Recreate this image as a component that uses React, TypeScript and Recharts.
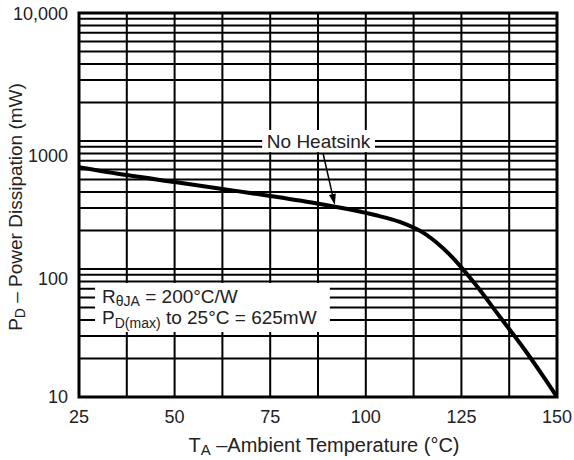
import React from "react";
import {
    LineChart,
    Line,
    XAxis,
    YAxis,
    CartesianGrid,
    ReferenceArea,
    ReferenceLine,
    Label
} from "recharts";

// ambient temperature (°C) and power dissipation (mW)
const temps = [25, 37.5, 50, 62.5, 75, 88, 102.4, 108.9, 115.5, 122, 128.6, 135.1, 141.6, 146.9, 150];
const powers = [625, 542, 478, 422, 372, 322, 264, 233, 188, 129, 76.3, 42.2, 23.3, 13.8, 10];

const xTicks = [25, 37.5, 50, 62.5, 75, 87.5, 100, 112.5, 125, 137.5, 150];
const xTickLabels = ["25", "", "50", "", "75", "", "100", "", "125", "", "150"];

const yTicks = [
    10, 20, 30, 40, 50, 60, 70, 80, 90,
    100, 200, 300, 400, 500, 600, 700, 800, 900,
    1000, 2000, 3000, 4000, 5000, 6000, 7000, 8000, 9000,
    10000
];
const yDecades = [10, 100, 1000, 10000];
const yDecadeLabels = ["10", "100", "1000", "10,000"];
// the printed decade labels sit a little below their grid lines
const yLabelNudge = [0, 10, 15, 1];

const data = temps.map((t, i) => ({ temp: t, power: powers[i] }));

const FONT = "'Liberation Sans', Arial, Helvetica, sans-serif";
const INK = "#222";

const xFmt = (v: number) => {
    const i = xTicks.indexOf(v);
    return i >= 0 ? xTickLabels[i] : "";
};

const YTick = (props: any) => {
    const { x, y, payload } = props;
    const i = yDecades.indexOf(payload.value);
    if (i < 0) return null;
    return (
        <text
            x={x}
            y={y + yLabelNudge[i]}
            dy="0.355em"
            textAnchor="end"
            fontSize={18}
            fontFamily={FONT}
            fill={INK}
        >
            {yDecadeLabels[i]}
        </text>
    );
};

const HeatsinkBox = (props: any) => {
    const { x, y, width, height } = props;
    return (
        <g>
            <rect x={x} y={y} width={width} height={height} fill="#fff" />
            <text
                x={x + width / 2}
                y={y + height / 2 + 7}
                textAnchor="middle"
                fontSize={19}
                fontFamily={FONT}
                fill={INK}
            >
                No Heatsink
            </text>
        </g>
    );
};

const RatingBox = (props: any) => {
    const { x, y, width, height } = props;
    return (
        <g>
            <rect x={x} y={y} width={width} height={height} fill="#fff" />
            <text x={x + 7} y={y + 20} fontSize={19} fontFamily={FONT} fill={INK} style={{ whiteSpace: "pre" }}>
                <tspan>R</tspan>
                <tspan fontSize={14} dy={3}>θJA</tspan>
                <tspan dy={-3}> = 200°C/W</tspan>
            </text>
            <text x={x + 7} y={y + 41} fontSize={19} fontFamily={FONT} fill={INK} style={{ whiteSpace: "pre" }}>
                <tspan>P</tspan>
                <tspan fontSize={14} dy={4}>D(max)</tspan>
                <tspan dy={-4}> to 25°C = 625mW</tspan>
            </text>
        </g>
    );
};

const Arrow = (props: any) => {
    const { x1, y1, x2, y2 } = props;
    if ([x1, y1, x2, y2].some((v) => v === undefined || isNaN(v))) return null;
    const ang = Math.atan2(y2 - y1, x2 - x1);
    const len = 11;
    const half = 3.5;
    const bx = x2 - len * Math.cos(ang);
    const by = y2 - len * Math.sin(ang);
    const px = -Math.sin(ang) * half;
    const py = Math.cos(ang) * half;
    return (
        <g>
            <line x1={x1} y1={y1} x2={bx} y2={by} stroke="#000" strokeWidth={1.5} />
            <polygon points={`${x2},${y2} ${bx + px},${by + py} ${bx - px},${by - py}`} fill="#000" />
        </g>
    );
};

const Frame = (props: any) => {
    const { x, y, width, height } = props;
    return <rect x={x} y={y} width={width} height={height} fill="none" stroke="#000" strokeWidth={3} />;
};

const XTitle = (props: any) => {
    const vb = props.viewBox || {};
    const cx = (vb.x ?? 79) + (vb.width ?? 478) / 2 + 6;
    const cy = (vb.y ?? 397) + 55;
    return (
        <text x={cx} y={cy} textAnchor="middle" fontSize={20} fontFamily={FONT} fill={INK} style={{ whiteSpace: "pre" }}>
            <tspan>T</tspan>
            <tspan fontSize={15} dy={3}>A</tspan>
            <tspan dy={-3}> –Ambient Temperature (°C)</tspan>
        </text>
    );
};

const YTitle = (props: any) => {
    const vb = props.viewBox || {};
    const cy = (vb.y ?? 13) + (vb.height ?? 384) / 2 + 2;
    const cx = 22;
    return (
        <text
            x={cx}
            y={cy}
            transform={`rotate(-90, ${cx}, ${cy})`}
            textAnchor="middle"
            fontSize={19}
            fontFamily={FONT}
            fill={INK}
            style={{ whiteSpace: "pre" }}
        >
            <tspan>P</tspan>
            <tspan fontSize={14} dy={3}>D</tspan>
            <tspan dy={-3}> – Power Dissipation (mW)</tspan>
        </text>
    );
};

const App: React.FC = () => {
    return (
        <div style={{ position: "absolute", left: 0, top: 0, width: 574, height: 460, background: "#fff" }}>
            <LineChart width={574} height={460} data={data} margin={{ top: 13, right: 17, bottom: 0, left: 0 }}>
                <CartesianGrid stroke="#000" strokeWidth={2} strokeOpacity={1} />
                <XAxis
                    dataKey="temp"
                    type="number"
                    domain={[25, 150]}
                    ticks={xTicks}
                    interval={0}
                    tickFormatter={xFmt}
                    height={63}
                    axisLine={false}
                    tickLine={false}
                    tickSize={0}
                    tickMargin={13}
                    tick={{ fill: INK, fontSize: 18, fontFamily: FONT }}
                    allowDataOverflow
                >
                    <Label content={XTitle} />
                </XAxis>
                <YAxis
                    dataKey="power"
                    type="number"
                    scale="log"
                    domain={[10, 10000]}
                    ticks={yTicks}
                    interval={0}
                    tick={YTick}
                    width={79}
                    axisLine={false}
                    tickLine={false}
                    tickSize={0}
                    tickMargin={11}
                    allowDataOverflow
                >
                    <Label content={YTitle} />
                </YAxis>
                <ReferenceArea x1={72.9} x2={102.4} y1={820} y2={1219} shape={HeatsinkBox} ifOverflow="visible" />
                <ReferenceArea x1={29.2} x2={90.6} y1={32.2} y2={77.8} shape={RatingBox} ifOverflow="visible" />
                <Line
                    type="monotone"
                    dataKey="power"
                    stroke="#000"
                    strokeWidth={4}
                    dot={false}
                    isAnimationActive={false}
                />
                <ReferenceLine
                    segment={[{ x: 88.8, y: 806 }, { x: 91.9, y: 316 }]}
                    shape={Arrow}
                    ifOverflow="visible"
                />
                <ReferenceArea x1={25} x2={150} y1={10} y2={10000} shape={Frame} ifOverflow="visible" />
            </LineChart>
        </div>
    );
};

export default App;
